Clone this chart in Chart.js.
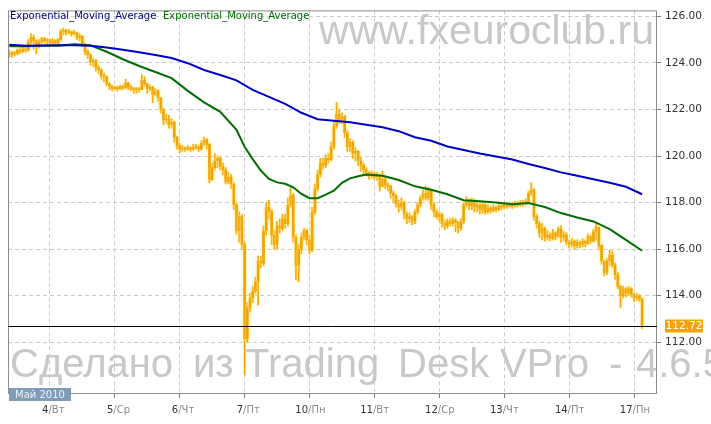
<!DOCTYPE html>
<html>
<head>
<meta charset="utf-8">
<style>
html, body { margin: 0; padding: 0; background: #fff; }
#wrap { width: 711px; height: 424px; }
</style>
</head>
<body>
<div id="wrap"><canvas id="chart" width="711" height="424"></canvas></div>
<script src="https://cdn.jsdelivr.net/npm/chart.js@4/dist/chart.umd.min.js"></script>
<script>
// hourly axis: 3 May 09:00 .. 17 May 08:00 (weekend skipped)
var tradingDays = ['3/Пн', '4/Вт', '5/Ср', '6/Чт', '7/Пт', '10/Пн', '11/Вт', '12/Ср', '13/Чт', '14/Пт', '17/Пн'];
var firstHour = 9;
var lastHour = 8;
var monthLabel = 'Май 2010';
var legendNames = ['Exponential_Moving_Average', 'Exponential_Moving_Average'];
var watermarkTop = 'www.fxeuroclub.ru';
var watermarkBottom = [['Сделано', 10], ['из', 193], ['Trading', 245], ['Desk', 398], ['VPro', 500], ['-', 609], ['4.6.5', 636]];

var firstOpen = 124.45;
var closes = [
	124.35, 124.45, 124.4, 124.55, 124.5, 124.6, 124.55, 124.9, 125.1, 124.95,
	124.7, 124.9, 125.05, 124.95, 125.0, 124.85, 124.95, 124.85, 125.0, 125.35,
	125.4, 125.3, 125.35, 125.25, 125.3, 125.1, 125.15, 124.8, 124.5, 124.35,
	124.05, 124.1, 123.8, 123.7, 123.45, 123.4, 123.1, 123.0, 122.9, 122.95,
	122.9, 123.0, 122.95, 123.15, 122.95, 122.9, 122.85, 122.9, 122.85, 123.25,
	123.1, 122.9, 122.95, 122.65, 122.8, 122.5, 122.0, 121.55, 121.6, 121.35,
	121.45, 120.8, 120.45, 120.3, 120.35, 120.3, 120.35, 120.3, 120.35, 120.4,
	120.3, 120.55, 120.7, 120.5, 119.0, 119.5, 119.8, 119.9, 119.55, 119.4,
	118.9, 119.1, 118.8, 117.9, 116.8, 117.4, 116.2, 112.15, 113.5, 113.9,
	114.2, 114.6, 115.5, 115.4, 116.8, 117.8, 117.6, 116.6, 116.2, 117.0,
	116.9, 117.3, 117.1, 117.9, 118.3, 116.5, 115.3, 116.0, 116.5, 116.8,
	116.4, 115.95, 117.6, 118.6, 119.2, 119.7, 119.6, 119.9, 119.85, 120.4,
	121.3, 121.8, 121.5, 121.7, 121.0, 120.4, 120.6, 120.1, 120.2, 119.8,
	119.6, 119.4, 119.3, 119.15, 119.25, 119.1, 119.2, 118.7, 119.0, 118.75,
	118.7, 118.4, 118.3, 117.95, 117.8, 118.0, 117.5, 117.3, 117.4, 117.2,
	117.6, 117.9, 118.2, 118.4, 118.2, 118.5, 117.9, 117.6, 117.4, 117.5,
	117.1, 117.0, 117.2, 117.1, 117.25, 117.15, 116.9, 117.2, 117.9, 118.1,
	117.85, 118.1, 117.8, 117.9, 117.7, 117.9, 117.6, 117.75, 117.65, 117.8,
	117.7, 117.85, 117.8, 117.9, 117.85, 117.9, 117.85, 117.95, 117.9, 118.0,
	117.95, 118.05, 118.4, 118.55, 117.4, 117.1, 116.7, 116.9, 116.5, 116.6,
	116.45, 116.7, 116.55, 116.85, 116.5, 116.6, 116.3, 116.2, 116.35, 116.15,
	116.3, 116.2, 116.35, 116.25, 116.55, 116.35, 116.75, 116.95, 116.15, 115.5,
	115.0, 115.5, 115.75, 115.3, 114.9, 114.4, 114.0, 114.3, 114.1, 114.3,
	114.05, 113.9, 114.0, 113.85, 112.72
];
var highs = [
	124.55, 124.5, 124.5, 124.6, 124.65, 124.7, 124.65, 125.0, 125.25, 125.2,
	125.0, 125.0, 125.1, 125.1, 125.05, 125.0, 125.05, 125.0, 125.05, 125.45,
	125.5, 125.45, 125.45, 125.35, 125.4, 125.3, 125.25, 125.15, 124.85, 124.55,
	124.4, 124.2, 124.15, 123.9, 123.75, 123.55, 123.45, 123.15, 123.05, 123.0,
	123.0, 123.05, 123.05, 123.3, 123.15, 123.05, 122.95, 122.95, 122.95, 123.5,
	123.4, 123.15, 123.05, 123.0, 122.9, 122.85, 122.5, 122.05, 121.8, 121.75,
	121.6, 121.5, 120.85, 120.55, 120.45, 120.4, 120.45, 120.4, 120.5, 120.5,
	120.45, 120.65, 120.8, 120.75, 120.55, 119.7, 120.1, 120.0, 119.95, 119.7,
	119.5, 119.3, 119.2, 118.85, 118.0, 117.6, 117.5, 116.3, 113.7, 114.1,
	114.4, 114.8, 115.7, 115.7, 117.0, 118.0, 118.1, 117.7, 116.8, 117.2,
	117.3, 117.5, 117.5, 118.2, 118.65, 118.4, 116.6, 116.2, 116.7, 116.9,
	116.85, 116.6, 117.8, 118.8, 119.4, 119.9, 119.9, 120.05, 120.1, 120.6,
	121.5, 122.3, 122.0, 121.85, 121.75, 121.1, 120.75, 120.65, 120.35, 120.25,
	119.95, 119.7, 119.5, 119.35, 119.35, 119.3, 119.3, 119.2, 119.35, 119.1,
	118.85, 118.75, 118.5, 118.35, 118.1, 118.2, 118.05, 117.6, 117.55, 117.45,
	117.7, 118.0, 118.3, 118.55, 118.7, 118.65, 118.55, 118.0, 117.7, 117.6,
	117.55, 117.25, 117.3, 117.3, 117.35, 117.3, 117.2, 117.3, 118.0, 118.25,
	118.15, 118.2, 118.15, 118.0, 117.95, 118.0, 117.95, 117.9, 117.85, 117.9,
	117.85, 117.95, 117.95, 118.0, 117.95, 118.0, 118.0, 118.05, 118.05, 118.1,
	118.1, 118.15, 118.5, 118.85, 118.6, 117.5, 117.2, 117.1, 116.95, 116.8,
	116.7, 116.85, 116.75, 116.95, 117.0, 116.75, 116.7, 116.4, 116.45, 116.4,
	116.4, 116.35, 116.45, 116.4, 116.65, 116.6, 116.85, 117.1, 116.9, 116.2,
	115.5, 115.6, 115.95, 115.9, 115.4, 115.0, 114.45, 114.4, 114.35, 114.4,
	114.35, 114.1, 114.1, 114.05, 113.9
];
var lows = [
	124.25, 124.25, 124.3, 124.35, 124.4, 124.45, 124.45, 124.5, 124.8, 124.6,
	124.4, 124.65, 124.85, 124.85, 124.8, 124.75, 124.8, 124.75, 124.8, 124.95,
	125.2, 125.2, 125.25, 125.15, 125.2, 125.0, 124.95, 124.7, 124.35, 124.2,
	123.9, 123.85, 123.65, 123.55, 123.3, 123.2, 123.0, 122.85, 122.8, 122.85,
	122.8, 122.85, 122.85, 122.9, 122.85, 122.8, 122.7, 122.7, 122.75, 122.85,
	123.0, 122.7, 122.8, 122.3, 122.6, 122.35, 121.85, 121.35, 121.4, 121.2,
	121.2, 120.6, 120.3, 120.15, 120.2, 120.2, 120.25, 120.2, 120.25, 120.3,
	120.2, 120.25, 120.45, 120.3, 118.85, 118.95, 119.4, 119.5, 119.4, 119.2,
	118.8, 118.8, 118.6, 117.7, 116.65, 116.3, 116.0, 110.6, 112.0, 113.3,
	113.7, 114.1, 113.6, 115.2, 115.3, 116.6, 117.3, 116.2, 116.0, 116.0,
	116.7, 116.8, 116.9, 117.0, 117.8, 116.3, 114.7, 114.6, 115.8, 116.4,
	116.2, 115.8, 115.9, 117.5, 118.5, 119.1, 119.45, 119.5, 119.7, 119.8,
	120.3, 121.2, 121.4, 121.4, 120.8, 120.2, 120.2, 119.9, 119.8, 119.6,
	119.35, 119.2, 119.15, 119.0, 119.05, 119.0, 118.95, 118.5, 118.7, 118.6,
	118.5, 118.2, 118.0, 117.8, 117.6, 117.7, 117.3, 117.1, 117.15, 117.05,
	117.1, 117.5, 117.8, 118.1, 118.1, 118.1, 117.7, 117.4, 117.3, 117.2,
	116.95, 116.85, 116.9, 117.0, 117.0, 116.75, 116.7, 116.8, 117.1, 117.8,
	117.7, 117.7, 117.6, 117.6, 117.5, 117.55, 117.5, 117.55, 117.55, 117.6,
	117.6, 117.65, 117.7, 117.75, 117.75, 117.8, 117.75, 117.8, 117.8, 117.85,
	117.85, 117.9, 118.0, 118.3, 117.25, 116.9, 116.5, 116.4, 116.35, 116.4,
	116.35, 116.4, 116.4, 116.5, 116.3, 116.35, 116.2, 116.05, 116.1, 116.0,
	116.05, 116.05, 116.1, 116.1, 116.2, 116.25, 116.3, 116.4, 116.0, 115.35,
	114.85, 114.9, 115.3, 115.2, 114.7, 114.3, 113.5, 113.9, 113.95, 114.0,
	113.95, 113.75, 113.8, 113.75, 112.6
];

// blue EMA, read every 6 bars
var slowHours = [0, 6, 12, 18, 24, 30, 36, 42, 48, 54, 60, 66, 72, 78, 84, 90, 96, 102, 108, 114,
	120, 126, 132, 138, 144, 150, 156, 162, 168, 174, 180, 186, 192, 198, 204, 210, 216, 222, 228, 234];
var emaSlow = [
	124.78, 124.74, 124.75, 124.76, 124.76, 124.74, 124.66, 124.57, 124.46, 124.34,
	124.21, 123.99, 123.70, 123.48, 123.25, 122.84, 122.54, 122.24, 121.86, 121.58,
	121.52, 121.45, 121.35, 121.24, 121.07, 120.81, 120.66, 120.41, 120.26, 120.11,
	119.98, 119.85, 119.66, 119.49, 119.30, 119.15, 119.00, 118.85, 118.68, 118.36
];
// green EMA, read more densely where it bends
var fastHours = [0, 6, 12, 18, 24, 30, 36, 42, 48, 54, 60, 66, 72, 78, 84, 87, 90, 93, 96, 99,
	102, 105, 108, 111, 114, 117, 120, 123, 126, 129, 132, 138, 144, 150, 156, 162, 168, 174, 180, 186,
	192, 198, 204, 210, 216, 222, 228, 234];
var emaFast = [
	124.72, 124.72, 124.74, 124.74, 124.80, 124.76, 124.48, 124.16, 123.87, 123.61,
	123.35, 122.80, 122.31, 121.90, 121.13, 120.40, 119.87, 119.38, 119.02, 118.87,
	118.81, 118.66, 118.37, 118.19, 118.19, 118.34, 118.51, 118.85, 119.04, 119.13,
	119.21, 119.15, 118.97, 118.70, 118.55, 118.36, 118.10, 118.06, 118.00, 117.93,
	117.98, 117.81, 117.55, 117.36, 117.19, 116.86, 116.40, 115.93
];
var lastPrice = 112.72;

var hours = [];
tradingDays.forEach(function (d, k) {
	var h0 = k === 0 ? firstHour : 0;
	var h1 = k === tradingDays.length - 1 ? lastHour : 23;
	for (var h = h0; h <= h1; h++) {
		hours.push({day: d, hour: h});
	}
});
var labels = hours.map(function (o) {
	return o.day + ' ' + (o.hour < 10 ? '0' : '') + o.hour + ':00';
});

var bodies = closes.map(function (c, i) {
	return [i === 0 ? firstOpen : closes[i - 1], c];
});
var wicks = closes.map(function (c, i) {
	return [lows[i], highs[i]];
});

function spread(at, values) {
	var arr = labels.map(function () { return null; });
	at.forEach(function (h, k) { arr[h] = values[k]; });
	return arr;
}

var orange = '#f2a30c';
var blue = '#0000c4';
var green = '#006e00';
var uiFont = '"DejaVu Sans", Verdana, sans-serif';
var bigFont = '"Liberation Sans", Arial, sans-serif';

function isDayTick(c) {
	return c.tick && c.tick.label;
}

var decor = {
	id: 'decor',
	beforeDatasetsDraw: function (chart) {
		var ctx = chart.ctx;
		ctx.save();
		ctx.fillStyle = '#c8c8c8';
		ctx.textBaseline = 'alphabetic';
		ctx.font = '41px ' + bigFont;
		ctx.textAlign = 'right';
		ctx.fillText(watermarkTop, 654, 44);
		ctx.font = '40px ' + bigFont;
		ctx.textAlign = 'left';
		watermarkBottom.forEach(function (w) {
			ctx.fillText(w[0], w[1], 377);
		});
		ctx.restore();
	},
	beforeDatasetDraw: function (chart, args) {
		if (args.meta.type !== 'bar') return;
		var ctx = chart.ctx;
		ctx.save();
		ctx.shadowColor = 'rgba(255, 240, 120, 0.9)';
		ctx.shadowBlur = 3;
	},
	afterDatasetDraw: function (chart, args) {
		if (args.meta.type !== 'bar') return;
		chart.ctx.restore();
	},
	afterDraw: function (chart) {
		var ctx = chart.ctx;
		var a = chart.chartArea;
		var xs = chart.scales.x;
		var ys = chart.scales.y;
		ctx.save();

		// frame
		ctx.strokeStyle = '#8c8c8c';
		ctx.lineWidth = 1;
		ctx.strokeRect(a.left + 0.5, a.top + 0.5, a.right - a.left - 1, a.bottom - a.top);

		// last price line
		var py = Math.round(ys.getPixelForValue(lastPrice)) + 0.5;
		ctx.strokeStyle = '#000';
		ctx.beginPath();
		ctx.moveTo(a.left, py);
		ctx.lineTo(a.right, py);
		ctx.stroke();

		ctx.fillStyle = '#f5a300';
		ctx.fillRect(665, py - 7, 38, 13);
		ctx.fillStyle = '#fff';
		ctx.font = '10.6px ' + uiFont;
		ctx.textAlign = 'center';
		ctx.textBaseline = 'middle';
		ctx.fillText(lastPrice.toFixed(2), 684, py);

		// legend
		ctx.font = '10px ' + uiFont;
		ctx.textAlign = 'left';
		ctx.fillStyle = '#00007a';
		ctx.fillText(legendNames[0], 10, 16);
		ctx.fillStyle = green;
		ctx.fillText(legendNames[1], 163, 16);

		// day labels: number dark, weekday grey
		xs.ticks.forEach(function (t, k) {
			if (!t.label) return;
			var parts = t.label.split('/');
			var x = xs.getPixelForTick(k) - 1.5;
			ctx.textAlign = 'right';
			ctx.fillStyle = '#333';
			ctx.fillText(parts[0], x, 410);
			ctx.textAlign = 'left';
			ctx.fillStyle = '#8a8a8a';
			ctx.fillText('/' + parts[1], x, 410);
		});

		// month box
		ctx.fillStyle = '#7f9db7';
		ctx.fillRect(9, 388, 62, 13);
		ctx.fillStyle = '#eef3f7';
		ctx.textAlign = 'left';
		ctx.fillText(monthLabel, 15, 395);
		ctx.restore();
	}
};

var chart = new Chart(document.getElementById('chart').getContext('2d'), {
	type: 'bar',
	data: {
		labels: labels,
		datasets: [{
			type: 'line',
			label: legendNames[0],
			data: spread(slowHours, emaSlow),
			borderColor: blue,
			borderWidth: 2,
			pointRadius: 0,
			spanGaps: true,
			tension: 0,
			order: 0
		}, {
			type: 'line',
			label: legendNames[1],
			data: spread(fastHours, emaFast),
			borderColor: green,
			borderWidth: 2,
			pointRadius: 0,
			spanGaps: true,
			tension: 0,
			order: 0
		}, {
			label: 'wick',
			data: wicks,
			backgroundColor: orange,
			barThickness: 1,
			grouped: false,
			order: 2
		}, {
			label: 'body',
			data: bodies,
			backgroundColor: orange,
			barThickness: 2,
			minBarLength: 1,
			grouped: false,
			order: 1
		}]
	},
	options: {
		responsive: false,
		animation: false,
		devicePixelRatio: 1,
		layout: {padding: {left: 8, top: 8, right: 0, bottom: 0}},
		plugins: {
			legend: {display: false},
			tooltip: {enabled: false}
		},
		scales: {
			x: {
				offset: true,
				grid: {
					offset: false,
					color: function (c) { return isDayTick(c) ? '#cbcbcb' : 'rgba(0,0,0,0)'; },
					lineWidth: function (c) { return isDayTick(c) ? 1 : 0; },
					tickColor: function (c) { return isDayTick(c) ? '#808080' : 'rgba(0,0,0,0)'; },
					tickLength: 5
				},
				border: {display: false, dash: [4, 3]},
				ticks: {
					autoSkip: false,
					maxRotation: 0,
					color: 'rgba(0,0,0,0)',
					font: {family: uiFont, size: 10},
					callback: function (v, i) {
						var o = hours[i];
						return o && o.hour === 0 ? o.day : null;
					}
				},
				afterFit: function (s) { s.height = 31; }
			},
			y: {
				position: 'right',
				min: 109.82,
				max: 126.26,
				grid: {color: '#cbcbcb', tickColor: '#808080', tickLength: 4},
				border: {display: false, dash: [4, 3]},
				ticks: {
					stepSize: 2,
					includeBounds: false,
					padding: 4,
					color: '#333',
					font: {family: uiFont, size: 10.6},
					callback: function (v) { return v.toFixed(2); }
				},
				afterBuildTicks: function (s) {
					s.ticks = s.ticks.filter(function (t) { return t.value >= 112; });
				},
				afterFit: function (s) { s.width = 54; }
			}
		}
	},
	plugins: [decor]
});
</script>
</body>
</html>
